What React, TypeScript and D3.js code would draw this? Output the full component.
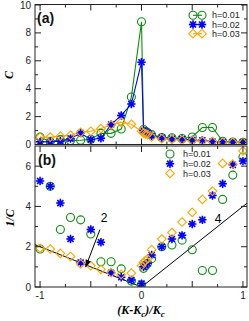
import React from "react";
import * as d3 from "d3";

const xVals = [-1, -0.9, -0.8, -0.7, -0.6, -0.5, -0.4, -0.3, -0.2, -0.1, 0, 0.02, 0.04, 0.06, 0.1, 0.2, 0.3, 0.4, 0.5, 0.6, 0.7, 0.8, 0.9, 1.0];
const cH001 = [0.53, 0.2, 0.35, 0.29, 0.3, 0.38, 0.8, 0.8, 1.11, 3.4, 8.8, 1.08, 0.95, 0.85, 0.71, 0.5, 0.48, 0.43, 0.54, 1.22, 1.22, 0.23, 0.18, 0.155];
const cH002 = [0.19, 0.2, 0.24, 0.42, 0.82, 0.35, 0.45, 1.43, 2.08, 2.9, 5.9, 1.0, 0.9, 0.85, 0.63, 0.5, 0.42, 0.39, 0.32, 0.3, 0.22, 0.195, 0.165, 0.16];
const cH003 = [0.52, 0.53, 0.6, 0.66, 0.87, 0.95, 1.14, 1.4, 1.6, 1.45, 0.95, 0.82, 0.76, 0.72, 0.54, 0.42, 0.37, 0.31, 0.27, 0.23, 0.21, 0.163, 0.164, 0.148];
const seriesLabels = ["h=0.01", "h=0.02", "h=0.03"];
const seriesColors = ["#0c8c0c", "#0000ff", "#ffa500"];
const seriesShapes = ["circle", "star", "diamond"];
const yTicksA = [0, 2, 4, 6, 8, 10];
const yTicksB = [0, 2, 4, 6];
const xTickLabels = [-1, 0, 1];
const slopeLeft = 2;
const slopeRight = 4;

const FONT = "'Liberation Sans', Arial, sans-serif";
const SERIF = "'Liberation Serif', 'Times New Roman', serif";

function Marker({ shape, color, x, y }: { shape: string; color: string; x: number; y: number }) {
  if (shape === "circle") {
    return <circle cx={x} cy={y} r={4} fill="none" stroke={color} strokeWidth={1.1} />;
  }
  if (shape === "diamond") {
    const r = 4.3;
    return <path d={`M${x},${y - r}L${x + r},${y}L${x},${y + r}L${x - r},${y}Z`} fill="none" stroke={color} strokeWidth={1.1} />;
  }
  const r = 4.2;
  const d = 0.72 * r;
  return (
    <g>
      <circle cx={x} cy={y} r={3.4} fill="#7f7fff" opacity={0.55} />
      <path
        d={`M${x - r},${y}L${x + r},${y}M${x},${y - r}L${x},${y + r}M${x - d},${y - d}L${x + d},${y + d}M${x - d},${y + d}L${x + d},${y - d}`}
        stroke={color}
        strokeWidth={1.5}
      />
    </g>
  );
}

export default function App() {
  const L = 35, R = 247;
  const aTop = 4.5, aBot = 144.5, bTop = 146, bBot = 287;
  const x = d3.scaleLinear().domain([-1.05, 1.04]).range([L, R]);
  const yA = d3.scaleLinear().domain([0, 10]).range([aBot, aTop + 0.5]);
  const yB = d3.scaleLinear().domain([0, 7]).range([bBot, bTop]);
  const data = [cH001, cH002, cH003];

  const lineA = d3.line<[number, number]>().x((d) => x(d[0])).y((d) => yA(d[1]));

  const majorX = d3.range(-1, 1.01, 0.5);
  const minorX = [-0.75, -0.25, 0.25, 0.75];

  const axisFrame = (top: number, bot: number, yScale: any, majors: number[], minors: number[], showXLabels: boolean, key: string) => (
    <g key={key}>
      <rect x={L} y={top} width={R - L} height={bot - top} fill="none" stroke="#222" strokeWidth={1} />
      {majorX.map((v) => (
        <g key={"mx" + v}>
          <line x1={x(v)} x2={x(v)} y1={bot} y2={bot - 6} stroke="#222" />
          <line x1={x(v)} x2={x(v)} y1={top} y2={top + 6} stroke="#222" />
        </g>
      ))}
      {minorX.map((v) => (
        <g key={"nx" + v}>
          <line x1={x(v)} x2={x(v)} y1={bot} y2={bot - 3} stroke="#222" />
          <line x1={x(v)} x2={x(v)} y1={top} y2={top + 3} stroke="#222" />
        </g>
      ))}
      {majors.map((v) => (
        <g key={"my" + v}>
          <line x1={L} x2={L + 6} y1={yScale(v)} y2={yScale(v)} stroke="#222" />
          <line x1={R} x2={R - 6} y1={yScale(v)} y2={yScale(v)} stroke="#222" />
          <text x={L - 4} y={yScale(v)} dy="0.35em" textAnchor="end" fontFamily={FONT} fontSize={10} fill="#222">
            {v}
          </text>
        </g>
      ))}
      {minors.map((v) => (
        <g key={"ny" + v}>
          <line x1={L} x2={L + 3} y1={yScale(v)} y2={yScale(v)} stroke="#222" />
          <line x1={R} x2={R - 3} y1={yScale(v)} y2={yScale(v)} stroke="#222" />
        </g>
      ))}
      {showXLabels &&
        xTickLabels.map((v) => (
          <text key={"xl" + v} x={x(v)} y={bot + 12} textAnchor="middle" fontFamily={FONT} fontSize={10} fill="#222">
            {v}
          </text>
        ))}
    </g>
  );

  return (
    <svg width={249} height={321} style={{ position: "absolute", left: 0, top: 0, background: "#fff" }}>
      <defs>
        <clipPath id="clipA">
          <rect x={L} y={aTop} width={R - L} height={aBot - aTop} />
        </clipPath>
        <clipPath id="clipB">
          <rect x={L} y={bTop} width={R - L} height={bBot - bTop} />
        </clipPath>
        <marker id="arrow" viewBox="0 0 10 10" refX="9" refY="5" markerWidth="8" markerHeight="8" orient="auto" markerUnits="userSpaceOnUse">
          <path d="M0,1.5L10,5L0,8.5Z" fill="#000" />
        </marker>
      </defs>

      {/* Panel (a) */}
      <g clipPath="url(#clipA)">
        {data.map((vals, i) => (
          <path
            key={"la" + i}
            d={lineA(xVals.map((xv, j) => [xv, vals[j]] as [number, number])) || ""}
            fill="none"
            stroke={seriesColors[i]}
            strokeWidth={1.1}
          />
        ))}
        {data.map((vals, i) =>
          vals.map((v, j) => <Marker key={`ma${i}-${j}`} shape={seriesShapes[i]} color={seriesColors[i]} x={x(xVals[j])} y={yA(v)} />)
        )}
      </g>
      {axisFrame(aTop, aBot, yA, yTicksA, [1, 3, 5, 7, 9], false, "fa")}
      <text x={37} y={23} fontFamily={FONT} fontWeight="bold" fontSize={14} fill="#111">
        (a)
      </text>
      {seriesLabels.map((s, i) => {
        const yy = 15.3 + i * 9.2;
        return (
          <g key={"lga" + i}>
            <line x1={193} x2={202} y1={yy} y2={yy} stroke={seriesColors[i]} strokeWidth={1.1} />
            <Marker shape={seriesShapes[i]} color={seriesColors[i]} x={193} y={yy} />
            <Marker shape={seriesShapes[i]} color={seriesColors[i]} x={202} y={yy} />
            <text x={212} y={yy} dy="0.35em" fontFamily={FONT} fontSize={9} fill="#222">
              {s}
            </text>
          </g>
        );
      })}
      <text transform="translate(13,75) rotate(-90)" textAnchor="middle" fontFamily={SERIF} fontStyle="italic" fontWeight="bold" fontSize={12}>
        C
      </text>

      {/* Panel (b) */}
      <g clipPath="url(#clipB)">
        <line x1={x(-1.05)} y1={yB(1.05 * slopeLeft)} x2={x(0)} y2={yB(0)} stroke="#000" strokeWidth={1} />
        <line x1={x(0)} y1={yB(0)} x2={x(1.04)} y2={yB(1.04 * slopeRight)} stroke="#000" strokeWidth={1} />
        {data.map((vals, i) =>
          vals.map((v, j) => <Marker key={`mb${i}-${j}`} shape={seriesShapes[i]} color={seriesColors[i]} x={x(xVals[j])} y={yB(1 / v)} />)
        )}
      </g>
      {axisFrame(bTop, bBot, yB, yTicksB, [1, 3, 5], true, "fb")}
      <text x={38} y={165} fontFamily={FONT} fontWeight="bold" fontSize={14} fill="#111">
        (b)
      </text>
      {seriesLabels.map((s, i) => {
        const yy = 154 + i * 9.7;
        return (
          <g key={"lgb" + i}>
            <Marker shape={seriesShapes[i]} color={seriesColors[i]} x={170} y={yy} />
            <text x={183} y={yy} dy="0.35em" fontFamily={FONT} fontSize={9} fill="#222">
              {s}
            </text>
          </g>
        );
      })}
      <line x1={x(-0.41)} y1={yB(2.85)} x2={x(-0.55)} y2={yB(1.0)} stroke="#000" strokeWidth={1} markerEnd="url(#arrow)" />
      <text x={x(-0.37)} y={yB(3.25)} fontFamily={FONT} fontSize={12} textAnchor="middle">
        2
      </text>
      <text x={x(0.755)} y={yB(3.2)} fontFamily={FONT} fontSize={12} textAnchor="middle">
        4
      </text>
      <text transform="translate(14,218) rotate(-90)" textAnchor="middle" fontFamily={SERIF} fontStyle="italic" fontWeight="bold" fontSize={12}>
        1/C
      </text>
      <text x={141} y={314} textAnchor="middle" fontFamily={SERIF} fontStyle="italic" fontWeight="bold" fontSize={12}>
        (K-K<tspan dy={3} fontSize={9}>c</tspan>
        <tspan dy={-3}>)/K</tspan>
        <tspan dy={3} fontSize={9}>c</tspan>
      </text>
    </svg>
  );
}
